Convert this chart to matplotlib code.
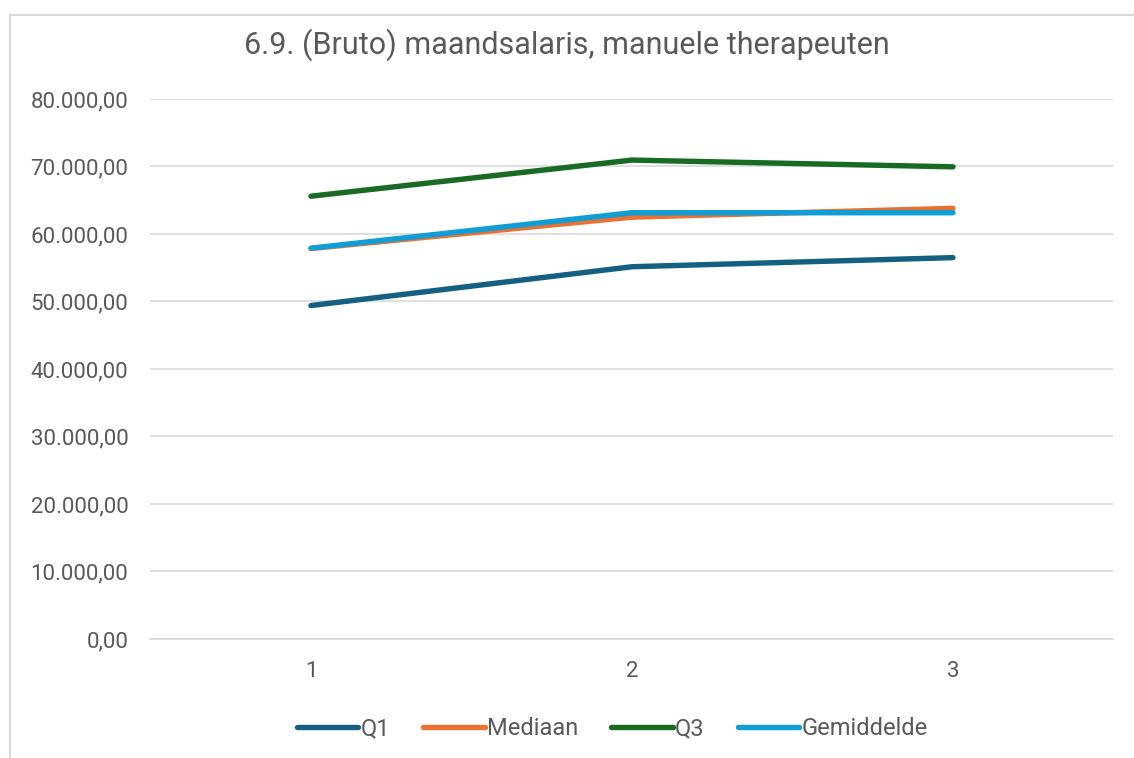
import matplotlib
matplotlib.use("Agg")
from matplotlib import pyplot as plt
from matplotlib.patches import Rectangle

categories = ["1", "2", "3"]
q1 = [49400, 55150, 56500]
mediaan = [57850, 62500, 63800]
q3 = [65600, 70950, 69950]
gemiddelde = [57900, 63150, 63150]

series = [
    ("Q1", q1, "#156082"),
    ("Mediaan", mediaan, "#E97132"),
    ("Q3", q3, "#196B24"),
    ("Gemiddelde", gemiddelde, "#0F9ED5"),
]

plt.rcParams["font.family"] = ["Roboto", "DejaVu Sans"]


def nl_format(v, pos=None):
    s = "{:,.2f}".format(v)
    return s.replace(",", "X").replace(".", ",").replace("X", ".")


fig = plt.figure(figsize=(11.34, 7.58), dpi=100)
fig.patches.append(Rectangle((10 / 1134, -0.1), 1.2, 1.1 - 15 / 758,
                             transform=fig.transFigure, fill=False,
                             edgecolor="#D9D9D9", linewidth=1.5))

ax = fig.add_axes([0.1327, 0.157, 0.8492, 0.7124])
x = range(1, len(categories) + 1)
for name, vals, color in series:
    ax.plot(x, vals, color=color, linewidth=3.9, label=name,
            solid_capstyle="round", solid_joinstyle="round")

ax.set_xlim(0.5, 3.5)
ax.set_ylim(0, 80000)
ax.set_yticks(range(0, 80001, 10000))
ax.yaxis.set_major_formatter(plt.FuncFormatter(nl_format))
ax.set_xticks(list(x))
ax.set_xticklabels(categories)
ax.tick_params(length=0, labelsize=16, colors="#595959")
ax.tick_params(axis="y", pad=16)
ax.tick_params(axis="x", pad=16)
ax.grid(axis="y", color="#D9D9D9", linewidth=1.2)
ax.axhline(0, color="#D9D9D9", linewidth=1.2, clip_on=False, zorder=0)
ax.set_axisbelow(True)
for s in ax.spines.values():
    s.set_visible(False)

fig.text(0.5, 0.941, "6.9. (Bruto) maandsalaris, manuele therapeuten",
         ha="center", va="center", fontsize=22, color="#595959")

fig.legend(loc="center", bbox_to_anchor=(0.54, 0.039), ncol=4, frameon=False,
           fontsize=17, handlelength=2.6, handletextpad=0.1, columnspacing=1.4,
           labelcolor="#595959")

plt.savefig("out.png", dpi=100)
